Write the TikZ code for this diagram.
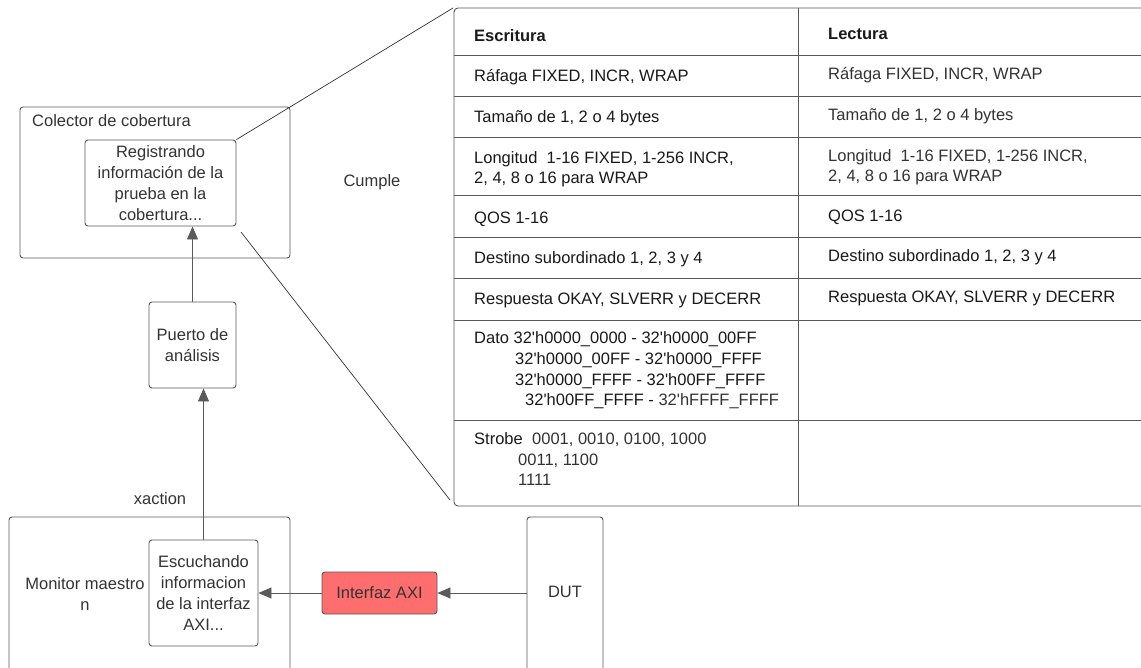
\documentclass[tikz,border=0pt]{standalone}
\usepackage{fontspec}
\setmainfont{Liberation Sans}
\usetikzlibrary{arrows.meta}
\definecolor{edge}{HTML}{5A5A5A}
\definecolor{ink}{HTML}{333333}
\definecolor{cellink}{HTML}{1A1A1A}
\definecolor{axired}{HTML}{FF6E6E}
\newcommand{\apo}{\textquotesingle}
\begin{document}
\begin{tikzpicture}[x=1pt,y=-1pt,
  every node/.style={font=\fontsize{16.5}{21}\selectfont, text=ink},
  box/.style={draw=edge, line width=0.9pt, rounded corners=3pt, inner sep=0pt, align=center},
  flow/.style={draw=edge, line width=0.9pt, -{Triangle[length=13pt,width=11pt]}},
  link/.style={draw=black!80, line width=0.7pt},
  cell/.style={anchor=base west, inner sep=0pt, text=cellink},
  soft/.style={anchor=base west, inner sep=0pt, text=ink},
  tline/.style={draw=black!65, line width=0.9pt}]
\useasboundingbox (0,0) rectangle (1141,667);
\clip (0,0) rectangle (1141,667);
\fill[white] (0,0) rectangle (1141,667);

% coverage collector and its inner activity
\node[box, minimum width=270pt, minimum height=151pt] (colector) at (155,182.5) {};
\node[anchor=west, inner sep=0pt] (colectorlabel) at (32,121) {Colector de cobertura};
\node[box, minimum width=151pt, minimum height=86pt] (registrando) at (160.5,183)
  {Registrando\\información de la\\prueba en la\\cobertura...};
\node[inner sep=0pt] (cumple) at (372,182) {Cumple};

% analysis port
\node[box, minimum width=87pt, minimum height=86pt] (puerto) at (192.5,345)
  {Puerto de\\análisis};
\node[inner sep=0pt] (xaction) at (160,499) {xaction};

% master monitor
\node[box, minimum width=281pt, minimum height=163pt] (monitor) at (149.5,598.5) {};
\node[inner sep=0pt, align=center] (monitorlabel) at (85,594) {Monitor maestro\\n};
\node[box, fill=white, minimum width=109pt, minimum height=106pt] (escuchando) at (203.5,593)
  {Escuchando\\informacion\\de la interfaz\\AXI...};

% AXI interface and DUT
\node[box, fill=axired, minimum width=115pt, minimum height=42pt] (interfaz) at (379.5,593)
  {Interfaz AXI};
\node[box, minimum width=76pt, minimum height=163pt] (dut) at (565,598.5) {};
\node[inner sep=0pt] (dutlabel) at (565,592) {DUT};

% data flow
\draw[flow] (puerto.north) -- (puerto.north |- registrando.south);
\draw[flow] (escuchando.north) -- (escuchando.north |- puerto.south);
\draw[flow] (interfaz.east -| dut.west) -- (interfaz.east);
\draw[flow] (interfaz.west) -- (interfaz.west -| escuchando.east);

% coverage table
\coordinate (tabletop) at (453,8);
\coordinate (tablefoot) at (450,500);
\coordinate (regfoot) at (241,232);
\draw[tline, rounded corners=4pt] (454,8) rectangle (1170,506);
\draw[tline] (798,8) -- (798,506);
\foreach \y in {55,96,137,195,237,278,320,420}
  \draw[tline] (454,\y) -- (1170,\y);

% zoom lines from the activity box to the table
\draw[link] (registrando.north east) -- (tabletop);
\draw[link] (regfoot) -- (tablefoot);

% header
\node[cell, font=\fontsize{16.5}{21}\selectfont\bfseries] (hw) at (474,41) {Escritura};
\node[cell, font=\fontsize{16.5}{21}\selectfont\bfseries] (hr) at (828,39) {Lectura};

% write column
\node[cell] (w1) at (474,81) {Ráfaga FIXED, INCR, WRAP};
\node[cell] (w2) at (474,122) {Tamaño de 1, 2 o 4 bytes};
\node[cell] (w3a) at (474,163) {Longitud\ \ 1-16 FIXED, 1-256 INCR,};
\node[cell] (w3b) at (474,183) {2, 4, 8 o 16 para WRAP};
\node[cell] (w4) at (474,223) {QOS 1-16};
\node[cell] (w5) at (474,263) {Destino subordinado 1, 2, 3 y 4};
\node[cell] (w6) at (474,304) {Respuesta OKAY, SLVERR y DECERR};
\node[cell] (w7a) at (474,343) {Dato 32\apo h0000\_0000 - 32\apo h0000\_00FF};
\node[cell] (w7b) at (515,364) {32\apo h0000\_00FF - 32\apo h0000\_FFFF};
\node[cell] (w7c) at (515,385) {32\apo h0000\_FFFF - 32\apo h00FF\_FFFF};
\node[cell] (w7d) at (525,405) {32\apo h00FF\_FFFF - \textcolor{ink}{32\apo hFFFF\_FFFF}};
\node[cell] (w8a) at (474,444) {Strobe};
\node[soft] (w8b) at (532,444) {0001, 0010, 0100, 1000};
\node[soft] (w8c) at (518,465) {0011, 1100};
\node[soft] (w8d) at (518,485) {1111};

% read column
\node[soft] (r1) at (828,79) {Ráfaga FIXED, INCR, WRAP};
\node[soft] (r2) at (828,120) {Tamaño de 1, 2 o 4 bytes};
\node[soft] (r3a) at (828,161) {Longitud\ \ 1-16 FIXED, 1-256 INCR,};
\node[soft] (r3b) at (828,181) {2, 4, 8 o 16 para WRAP};
\node[cell] (r4) at (828,221) {QOS 1-16};
\node[cell] (r5) at (828,261) {Destino subordinado 1, 2, 3 y 4};
\node[cell] (r6) at (828,302) {Respuesta OKAY, SLVERR y DECERR};
\end{tikzpicture}
\end{document}
